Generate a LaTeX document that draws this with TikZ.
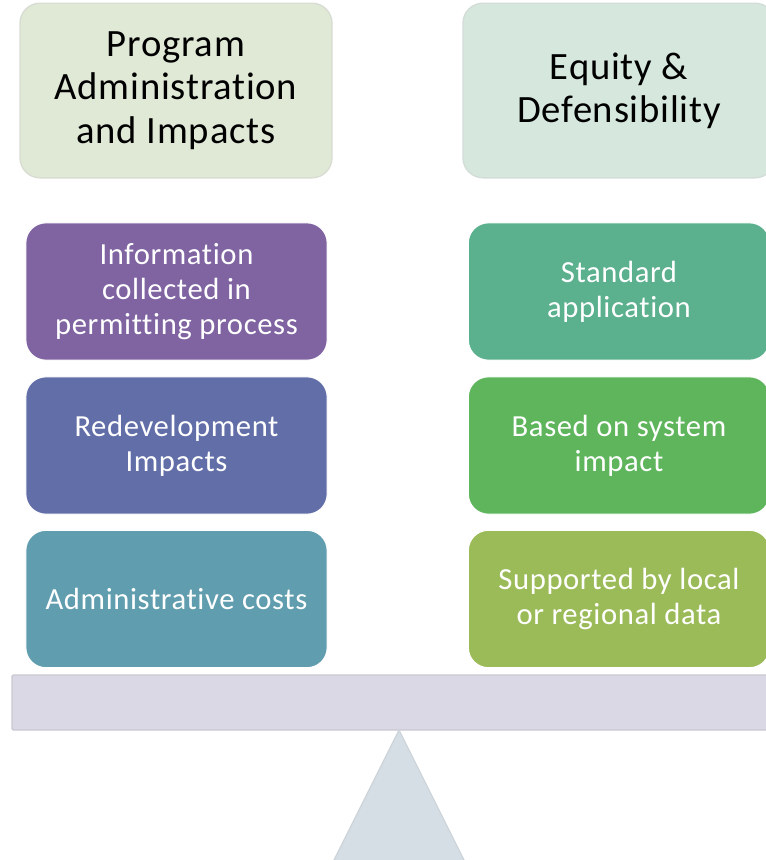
\documentclass[tikz,border=0pt]{standalone}
\usepackage{fontspec}
\setmainfont{Carlito}[Ligatures=NoCommon, LetterSpace=2]
\usetikzlibrary{positioning}

\definecolor{headleft}{HTML}{E0E8D6}
\definecolor{headright}{HTML}{D6E8DE}
\definecolor{infopurple}{HTML}{8064A2}
\definecolor{redevblue}{HTML}{616EA8}
\definecolor{admteal}{HTML}{609DAE}
\definecolor{stdgreen}{HTML}{5BB08E}
\definecolor{sysgreen}{HTML}{5EB55C}
\definecolor{dataolive}{HTML}{9BBB59}
\definecolor{beamgray}{HTML}{DAD8E4}
\definecolor{pivotgray}{HTML}{D5DEE5}

\tikzset{
  header/.style={rounded corners=15pt, draw=#1!85!black!60, line width=1pt, fill=#1,
    minimum width=234pt, minimum height=131pt, align=center,
    font=\fontsize{29}{32.5}\selectfont, text=black},
  weight/.style={rounded corners=15pt, draw=white, line width=0.8pt, fill=#1,
    minimum width=226pt, minimum height=103pt, align=center,
    font=\fontsize{23}{26.5}\selectfont, text=white},
}

\begin{document}
\begin{tikzpicture}[x=0.75pt,y=-0.75pt]
\useasboundingbox (0,0) rectangle (766,860);

% Headings over the two pans
\node[header=headleft] (admin) at (176,90.5) {Program\\Administration\\and Impacts};
\node[header=headright] (equity) at (619,90.5) {Equity \&\\Defensibility};

% Left pan
\node[weight=infopurple] (info) at (176.5,291.5) {Information\\collected in\\permitting process};
\node[weight=redevblue] (redev) at (176.5,445.5) {Redevelopment\\Impacts};
\node[weight=admteal] (cost) at (176.5,599) {Administrative costs};

% Right pan
\node[weight=stdgreen] (std) at (619,291.5) {Standard\\application};
\node[weight=sysgreen] (sys) at (619,445.5) {Based on system\\impact};
\node[weight=dataolive] (data) at (619,599) {Supported by local\\or regional data};

% Beam and pivot
\draw[draw=beamgray!90!black!90, line width=1pt, fill=beamgray, rounded corners=1pt]
  (12,675) rectangle (780,730);
\coordinate (apex) at (399,730);
\draw[draw=pivotgray!95!black!95, line width=1pt, fill=pivotgray]
  (apex) -- (465,862) -- (333,862) -- cycle;
\end{tikzpicture}
\end{document}
